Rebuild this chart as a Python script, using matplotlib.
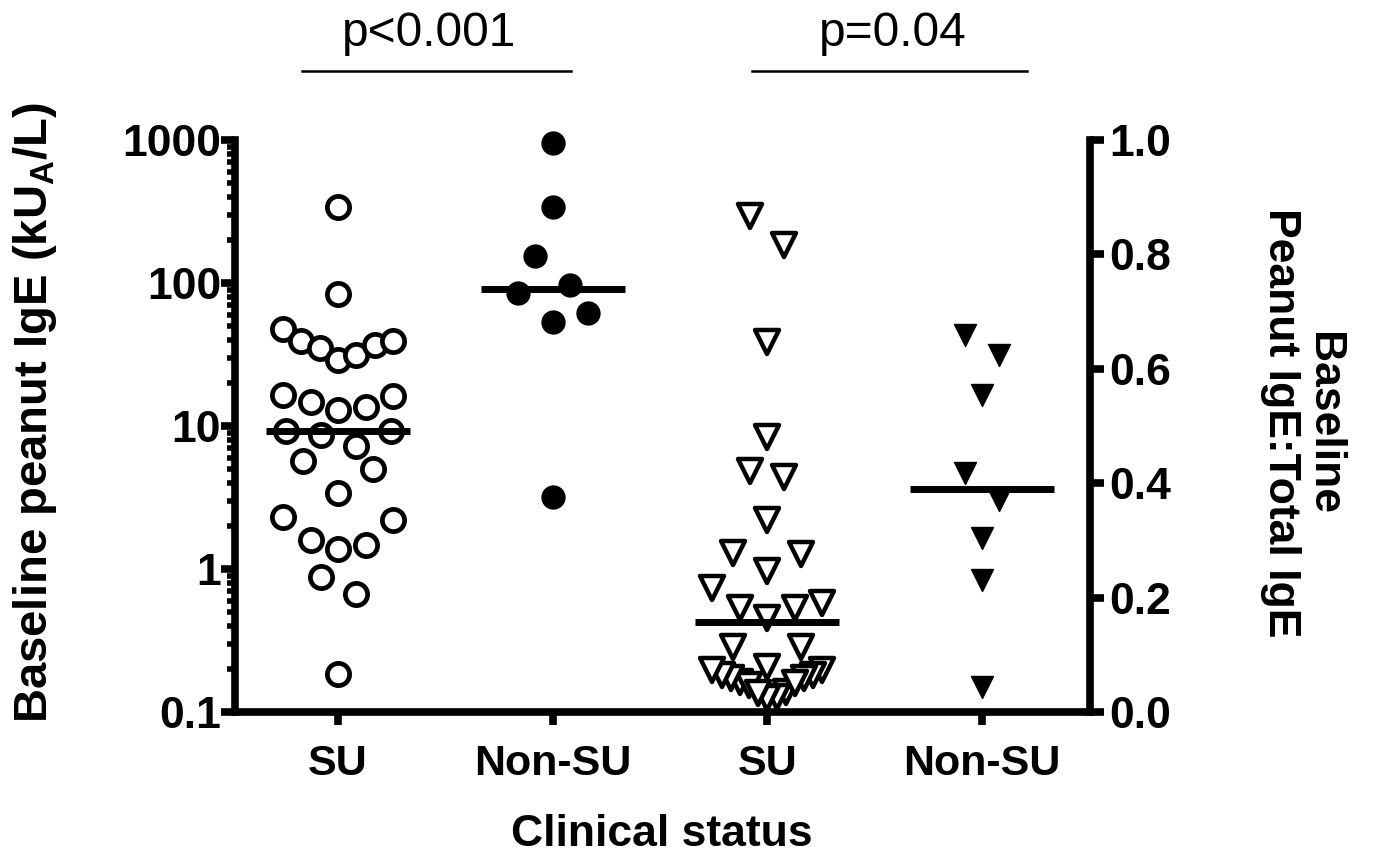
import numpy as np
import matplotlib
matplotlib.use('Agg')
import matplotlib.pyplot as plt
from matplotlib.markers import MarkerStyle
from matplotlib.transforms import blended_transform_factory
from matplotlib.ticker import FixedLocator, LogLocator, NullFormatter

# ---------------- data ----------------
categories = ['SU', 'Non-SU', 'SU', 'Non-SU']

su_ige = [340, 84, 48, 39, 35, 29, 31.5, 37, 39,
          13, 16.3, 14.8, 16.5, 13.5,
          9.2, 7.3, 8.7, 9.2, 5.0, 5.7, 3.4, 2.3, 2.2,
          1.6, 1.38, 1.46, 0.88, 0.67, 0.185]
nonsu_ige = [955, 340, 155, 97, 85, 61.5, 53, 3.2]

su_ratio = [0.868, 0.816, 0.647, 0.481, 0.422, 0.411, 0.335, 0.277, 0.278,
            0.247, 0.217, 0.190, 0.182, 0.165, 0.182, 0.114, 0.114, 0.079,
            0.073, 0.065, 0.059, 0.052, 0.047, 0.035, 0.026, 0.024, 0.033,
            0.051, 0.059, 0.065, 0.073]
nonsu_ratio = [0.659, 0.624, 0.554, 0.418, 0.371, 0.304, 0.231, 0.044]

center_lines = [9.3, 91, 0.157, 0.39]
p_labels = ['p<0.001', 'p=0.04']

left_ticks = [0.1, 1, 10, 100, 1000]
left_ticklabels = ['0.1', '1', '10', '100', '1000']
right_ticks = [0.0, 0.2, 0.4, 0.6, 0.8, 1.0]
right_ticklabels = ['0.0', '0.2', '0.4', '0.6', '0.8', '1.0']

ylabel_left = 'Baseline peanut IgE (kU$_\\mathbf{A}$/L)'
ylabel_right = 'Baseline\nPeanut IgE:Total IgE'
xlabel = 'Clinical status'

# ---------------- style ----------------
plt.rcParams['font.family'] = ['Liberation Sans', 'DejaVu Sans']
plt.rcParams['font.weight'] = 'bold'
plt.rcParams['mathtext.fontset'] = 'custom'
plt.rcParams['mathtext.rm'] = 'Liberation Sans:bold'
plt.rcParams['mathtext.bf'] = 'Liberation Sans:bold'

W, H = 1374, 859
fig = plt.figure(figsize=(W / 100, H / 100), dpi=100)
ax = fig.add_axes([235 / W, 1 - 712 / H, 855 / W, 572 / H])
ax.set_yscale('log')
ax.set_ylim(0.1, 1000)
ax.set_xlim(0.52, 4.503)
ax2 = ax.twinx()
ax2.set_ylim(0, 1)

FS = 32
SPINE_W = 5.5

for a in (ax, ax2):
    a.spines['top'].set_visible(False)
    for s in a.spines.values():
        s.set_linewidth(SPINE_W)
        s.set_capstyle('projecting')
ax.spines['right'].set_visible(False)
ax2.spines['left'].set_visible(False)
ax2.spines['bottom'].set_visible(False)

ax.set_xticks([1, 2, 3, 4])
ax.set_xticklabels(categories, fontsize=31, fontweight='bold')
ax.tick_params(axis='x', direction='out', length=9, width=SPINE_W, pad=14)

ax.yaxis.set_major_locator(FixedLocator(left_ticks))
ax.set_yticklabels(left_ticklabels, fontsize=FS, fontweight='bold')
ax.yaxis.set_minor_locator(LogLocator(base=10, subs=np.arange(2, 10)))
ax.yaxis.set_minor_formatter(NullFormatter())
ax.tick_params(axis='y', which='major', direction='out', length=10,
               width=SPINE_W, pad=0)
ax.tick_params(axis='y', which='minor', direction='out', length=6, width=4)

ax2.set_yticks(right_ticks)
ax2.set_yticklabels(right_ticklabels, fontsize=FS, fontweight='bold')
ax2.tick_params(axis='y', direction='out', length=10, width=SPINE_W, pad=4)


def row_scatter_x(a, xc, vals, row_h, step_px, max_span_px):
    """GraphPad-like scatter: group points into horizontal rows and
    spread each row symmetrically around the group centre."""
    vals = np.asarray(vals, float)
    pts = a.transData.transform(np.column_stack([np.full(len(vals), xc), vals]))
    ypx = pts[:, 1]
    order = np.argsort(ypx, kind='stable')
    rows, cur, start = [], [], None
    for i in order:
        if cur and ypx[i] - start > row_h:
            rows.append(cur)
            cur = []
        if not cur:
            start = ypx[i]
        cur.append(i)
    if cur:
        rows.append(cur)
    offs = np.zeros(len(vals))
    for r in rows:
        n = len(r)
        step = step_px if n < 2 else min(step_px, max_span_px / (n - 1))
        if n % 2:
            slots = [0.0]
            k = 1
            while len(slots) < n:
                slots += [k, -k]
                k += 1
        else:
            slots = []
            k = 0.5
            while len(slots) < n:
                slots += [k, -k]
                k += 1
        for s, i in zip(slots, r):
            offs[i] = s * step
    pxu = a.transData.transform((1, 1))[0] - a.transData.transform((0, 1))[0]
    return xc + offs / pxu


open_circle = dict(ls='none', marker='o', ms=16, mfc='white', mec='black',
                   mew=3.4, clip_on=False, zorder=3)
fill_circle = dict(ls='none', marker='o', ms=16.5, mfc='black', mec='black',
                   mew=1, clip_on=False, zorder=3)
tri_open = dict(ls='none', marker=MarkerStyle('v', joinstyle='round'), ms=17,
                mfc='white', mec='black', mew=3.2, clip_on=False, zorder=3)
tri_fill = dict(ls='none', marker=MarkerStyle('v', joinstyle='round'), ms=16.5,
                mfc='black', mec='black', mew=1, clip_on=False, zorder=3)

ax.plot(row_scatter_x(ax, 1, su_ige, 33, 35, 110), su_ige, **open_circle)
ax.plot(row_scatter_x(ax, 2, nonsu_ige, 33, 35, 110), nonsu_ige, **fill_circle)
ax2.plot(row_scatter_x(ax2, 3, su_ratio, 30.5, 34, 110), su_ratio, **tri_open)
ax2.plot(row_scatter_x(ax2, 4, nonsu_ratio, 30.5, 34, 110), nonsu_ratio, **tri_fill)

hw = 0.335
for i, m in enumerate(center_lines):
    a = ax if i < 2 else ax2
    xc = i + 1
    a.plot([xc - hw, xc + hw], [m, m], color='black', lw=5,
           solid_capstyle='butt', zorder=4, clip_on=False)

# axis titles
fig.text(35 / W, 1 - 412 / H, ylabel_left, rotation=90, ha='center',
         va='center', fontsize=34, fontweight='bold')
fig.text(1302 / W, 1 - 423 / H, ylabel_right, rotation=270, ha='center',
         va='center', multialignment='center', fontsize=FS,
         fontweight='bold', linespacing=1.05)
fig.text(662 / W, 1 - 846 / H, xlabel, ha='center', va='baseline',
         fontsize=FS, fontweight='bold')

# significance annotations
bt = blended_transform_factory(ax.transData, fig.transFigure)
for (x0, x1), xt, lab in zip([(0.832, 2.085), (2.928, 4.209)],
                             [1.424, 3.585], p_labels):
    ax.plot([x0, x1], [1 - 71 / H, 1 - 71 / H], color='black', lw=1.8,
            transform=bt, clip_on=False)
    ax.text(xt, 1 - 46 / H, lab, transform=bt, ha='center', va='baseline',
            fontsize=34.5, fontweight='normal')

fig.savefig('out.png', dpi=100)
